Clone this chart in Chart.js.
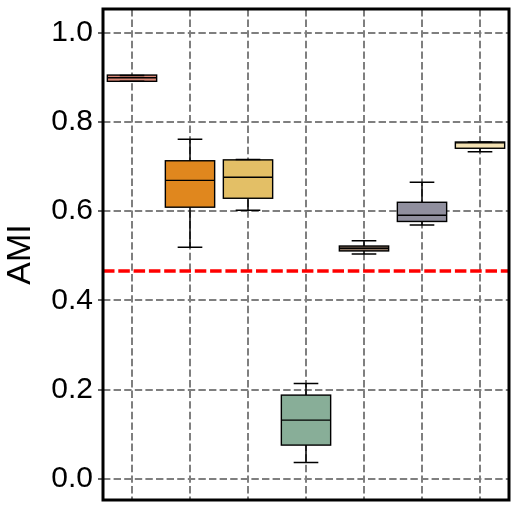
<!DOCTYPE html>
<html>
<head>
<meta charset="utf-8">
<script src="https://cdn.jsdelivr.net/npm/chart.js@4"></script>
<style>
  html, body { margin:0; padding:0; background:#fff; }
  #wrap { width:519px; height:511px; }
</style>
</head>
<body>
<div id="wrap"><canvas id="c"></canvas></div>
<script>
// ── data ───────────────────────────────────────────────────────────────────
const METHODS = ["M1", "M2", "M3", "M4", "M5", "M6", "M7"];
const MINS    = [0.891, 0.519, 0.602, 0.037, 0.504, 0.569, 0.733];
const Q1S     = [0.891, 0.609, 0.629, 0.076, 0.511, 0.577, 0.741];
const MEDIANS = [0.899, 0.669, 0.676, 0.132, 0.517, 0.591, 0.753];
const Q3S     = [0.905, 0.713, 0.715, 0.188, 0.522, 0.620, 0.755];
const MAXS    = [0.904, 0.761, 0.716, 0.214, 0.534, 0.665, 0.755];
const Y_TICKS = [0.0, 0.2, 0.4, 0.6, 0.8, 1.0];
const BASELINE_AMI = 0.466;

const COLORS = ["#d98675","#e0871e","#e3bf66","#88ae98","#8c7462","#908f9e","#f4e2b3"];

Chart.defaults.font.family = "'Liberation Sans', Arial, sans-serif";
Chart.defaults.color = "#000";

// whiskers, caps and medians, placed through the chart's own scales
const boxParts = {
  id: "boxParts",
  afterDatasetsDraw(chart){
    const { ctx, scales:{ y } } = chart;
    const meta = chart.getDatasetMeta(0);
    ctx.save();
    ctx.strokeStyle = "#000";
    ctx.lineCap = "butt";
    meta.data.forEach((bar, i) => {
      const cx = bar.x, half = bar.width / 2, cap = bar.width / 4;
      const yMin = y.getPixelForValue(MINS[i]), yMax = y.getPixelForValue(MAXS[i]);
      const yQ1 = y.getPixelForValue(Q1S[i]), yQ3 = y.getPixelForValue(Q3S[i]);
      const yMed = y.getPixelForValue(MEDIANS[i]);
      ctx.lineWidth = 1.5;
      ctx.beginPath();
      ctx.moveTo(cx, yQ3); ctx.lineTo(cx, yMax);
      ctx.moveTo(cx, yQ1); ctx.lineTo(cx, yMin);
      ctx.moveTo(cx - cap, yMax); ctx.lineTo(cx + cap, yMax);
      ctx.moveTo(cx - cap, yMin); ctx.lineTo(cx + cap, yMin);
      ctx.stroke();
      // box outline drawn centred on the edges, like the reference
      ctx.lineWidth = 1.4;
      const top = Math.min(yQ1, yQ3), h = Math.abs(yQ1 - yQ3);
      ctx.strokeRect(cx - half, top, half * 2, h);
      ctx.beginPath();
      ctx.moveTo(cx - half, yMed); ctx.lineTo(cx + half, yMed);
      ctx.stroke();
    });
    // red baseline
    const yb = y.getPixelForValue(BASELINE_AMI);
    ctx.strokeStyle = "#ff0000";
    ctx.lineWidth = 3.6;
    ctx.setLineDash([11.5, 3.8]);
    ctx.beginPath();
    ctx.moveTo(chart.chartArea.left, yb); ctx.lineTo(chart.chartArea.right, yb);
    ctx.stroke();
    ctx.restore();
  },
  afterDraw(chart){
    const { ctx, chartArea:a } = chart;
    ctx.save();
    ctx.strokeStyle = "#000";
    ctx.lineWidth = 3;
    ctx.strokeRect(a.left, a.top, a.right - a.left, a.bottom - a.top);
    ctx.restore();
  }
};

new Chart(document.getElementById("c"), {
  type: "bar",
  data: {
    labels: METHODS,
    datasets: [{
      data: METHODS.map((m, i) => [Q1S[i], Q3S[i]]),
      backgroundColor: COLORS,
      borderWidth: 0,
      borderSkipped: false,
      barPercentage: 0.85,
      categoryPercentage: 1,
    }],
  },
  options: {
    responsive: true,
    maintainAspectRatio: false,
    animation: false,
    layout: { padding: { top: 9, right: 10, bottom: 0, left: 0 } },
    plugins: { legend: { display:false }, tooltip: { enabled:false } },
    scales: {
      x: {
        offset: true,
        ticks: { display:false },
        grid: { offset:false, color:"#7f7f7f", lineWidth:2, drawTicks:false },
        border: { display:false, dash:[7.4, 3.2] },
        afterFit(s){ s.height = 11; s.paddingLeft = 0; s.paddingRight = 0; },
      },
      y: {
        min: -0.047, max: 1.053,
        afterBuildTicks(s){ s.ticks = Y_TICKS.map(v => ({ value:v })); },
        ticks: { font:{ size:30 }, padding:5, callback: v => v.toFixed(1) },
        grid: { color:"#7f7f7f", lineWidth:2, tickLength:5, tickColor:"#000", tickWidth:1.2 },
        border: { display:false, dash:[7.4, 3.2] },
        title: { display:true, text:"AMI", font:{ size:34 }, padding:{ top:0, bottom:0 } },
        afterFit(s){ s.width = 103; s.paddingTop = 0; s.paddingBottom = 0; },
      },
    },
  },
  plugins: [boxParts],
});
</script>
</body>
</html>
